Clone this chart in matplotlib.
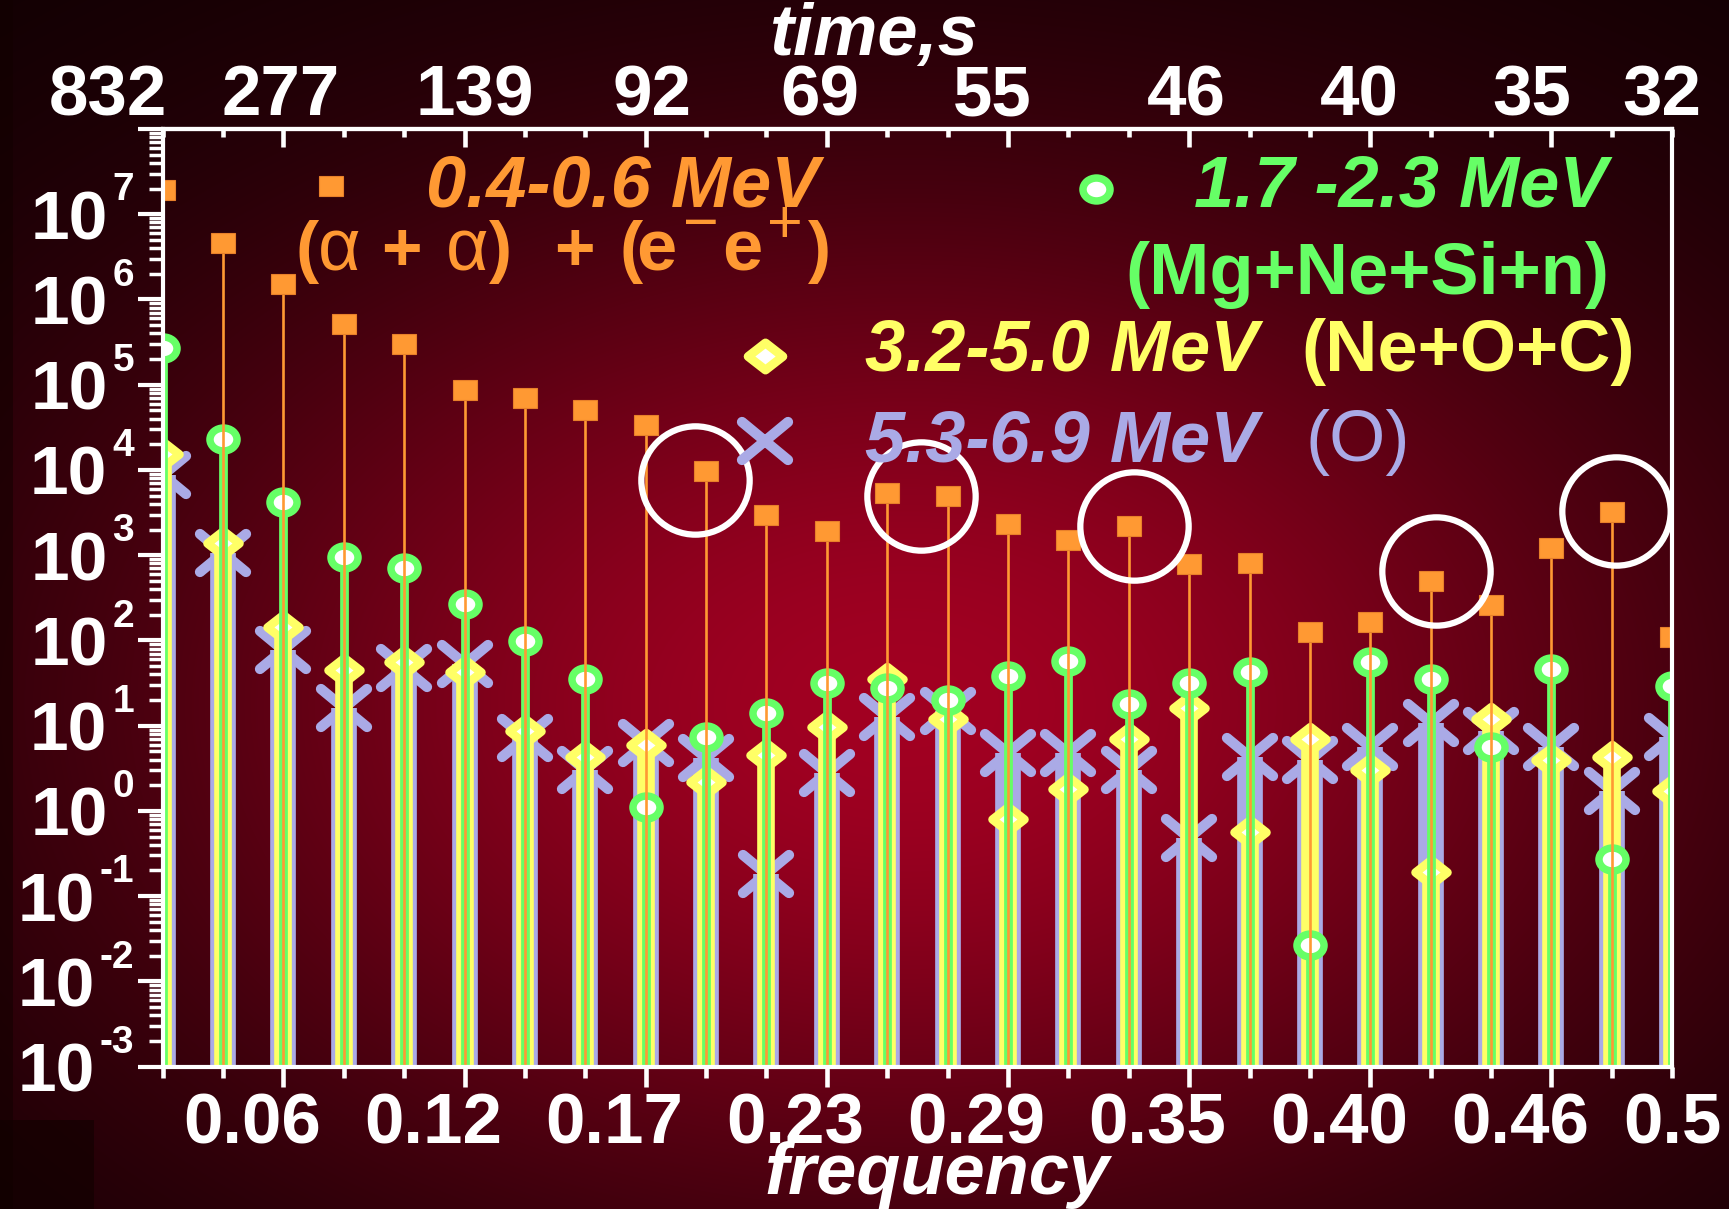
import numpy as np
import matplotlib
matplotlib.use("Agg")
import matplotlib.pyplot as plt
from matplotlib.lines import Line2D
from matplotlib.markers import MarkerStyle
from matplotlib.patches import Rectangle
from matplotlib.path import Path
from matplotlib.ticker import FixedLocator, LogLocator, NullFormatter
from matplotlib.transforms import Affine2D, ScaledTranslation

plt.rcParams["font.family"] = ["Liberation Sans", "DejaVu Sans"]

# ------------------------------------------------------------------ data
# spectral line number n; the frequency axis shows n / 52
line_no = np.arange(1, 27)
freq = line_no / 52.0

# amplitude of every line for the four energy windows
amp_04_06 = [1.9e7, 4.6e6, 1.5e6, 5.2e5, 3.0e5, 8.7e4, 7.0e4, 5.0e4, 3.4e4, 9.6e3,
             3.0e3, 1.9e3, 5.3e3, 4.9e3, 2.3e3, 1.5e3, 2.2e3, 7.8e2, 8.0e2, 1.26e2,
             1.63e2, 5.0e2, 2.63e2, 1.2e3, 3.2e3, 1.1e2]
amp_17_23 = [2.7e5, 2.3e4, 4.2e3, 9.4e2, 7.1e2, 2.65e2, 98, 35, 1.1, 7.3,
             14, 32, 28, 20, 38, 58, 18, 32, 43, 0.027,
             56, 35, 5.6, 46, 0.27, 29]
amp_32_50 = [1.55e4, 1.4e3, 142, 45, 56, 43, 8.7, 4.3, 5.9, 2.2,
             4.5, 9.6, 35, 12, 0.80, 1.8, 6.9, 16, 0.56, 6.9,
             3.0, 0.19, 12, 4.0, 4.3, 1.7]
amp_53_69 = [8.7e3, 1.07e3, 78, 16, 47, 53, 7.2, 3.0, 6.3, 4.2,
             0.18, 2.8, 12.6, 15, 4.8, 4.8, 3.0, 0.48, 4.3, 4.0,
             5.6, 10.7, 8.7, 5.6, 1.7, 7.3]

# highlighted peaks (line number, amplitude at the ring centre)
ring_line = [9.81, 13.56, 17.08, 22.09, 25.07]
ring_amp = [7.7e3, 5.0e3, 2.2e3, 6.5e2, 3.3e3]

# axis tick labels
bottom_lines = [3, 6, 9, 12, 15, 18, 21, 24, 26]
bottom_labels = ["0.06", "0.12", "0.17", "0.23", "0.29", "0.35", "0.40", "0.46", "0.5"]
top_lines = [1, 3, 6, 9, 12, 15, 18, 21, 24, 26]
top_labels = ["832", "277", "139", "92", "69", "55", "46", "40", "35", "32"]
decades = list(range(-3, 8))

# ---------------------------------------------------------------- colours
LAV, YEL, GRN, ORG = "#AAAAE6", "#FFFF66", "#66FF66", "#FF9933"

W, H, DPI = 1729, 1209, 100
fig = plt.figure(figsize=(W / DPI + 0.004, H / DPI + 0.004), dpi=DPI)
SW, SH = 1568.0, 1096.0          # layout grid for figure-level items


def fx(x):
    return x / SW


def fy(y):
    return 1.0 - y / SH


dts = fig.dpi_scale_trans


def shift(dx_pt, dy_pt):
    return ScaledTranslation(dx_pt / 72.0, dy_pt / 72.0, dts)


# ------------------------------------------------------ radial background
bg = fig.add_axes([0, 0, 1, 1], zorder=-10)
bg.set_axis_off()
xs = np.arange(0, SW, 2) + 1
ys = np.arange(0, SH, 2) + 1
xx, yy = np.meshgrid(xs, ys)
glow = np.exp(-((xx - 820) / 740.0) ** 2 - ((yy - 640) / 480.0) ** 2)
peak = np.array([162, 0, 34]) / 255.0
floor = np.array([12, 0, 2]) / 255.0
img = floor + (peak - floor) * glow[..., None]
bg.imshow(img, extent=(0, 1, 0, 1), aspect="auto", origin="upper",
          interpolation="bilinear")
bg.set_xlim(0, 1)
bg.set_ylim(0, 1)
bg.add_patch(Rectangle((0, 0), fx(12), 1, color="#120000", alpha=0.55, lw=0))
bg.add_patch(Rectangle((0, 0), fx(85), 81 / SH, color="#100000", alpha=0.6, lw=0))

# ------------------------------------------------------------- main axes
ax = fig.add_axes([162.6 / W, 1 - 1066.7 / H, (1671.8 - 162.6) / W, (1066.7 - 129.3) / H])
ax.patch.set_visible(False)
ax.set_yscale("log")
ax.set_xlim(freq[0], freq[-1])
ax.set_ylim(1e-3, 1e8)

base = 1e-3
x_mark = MarkerStyle("x", capstyle="round", transform=Affine2D().scale(1.22, 1.0))
diamond = MarkerStyle(Path([(-1, 0), (0, 0.78), (1, 0), (0, -0.78), (-1, 0)],
                           [Path.MOVETO, Path.LINETO, Path.LINETO, Path.LINETO, Path.CLOSEPOLY]),
                      joinstyle="miter")
ring = MarkerStyle("o", transform=Affine2D().scale(1.18, 1.0))
square = MarkerStyle("s", transform=Affine2D().scale(1.16, 1.0))

series = [
    (amp_53_69, LAV, 18.5, dict(marker=x_mark, ms=27.5, mew=7.4, mec=LAV, mfc=LAV), 2),
    (amp_32_50, YEL, 12.7, dict(marker=diamond, ms=23, mew=6.2, mec=YEL, mfc="white"), 3),
    (amp_17_23, GRN, 6.3, dict(marker=ring, ms=16.5, mew=5.4, mec=GRN, mfc="white"), 4),
    (amp_04_06, ORG, 1.9, dict(marker=square, ms=15.0, mew=0.8, mec="#E8802A", mfc=ORG), 5),
]
for vals, col, lw, mk, z in series:
    ax.vlines(freq, base, vals, colors=col, linewidth=lw, capstyle="butt", zorder=z)
    ax.plot(freq, vals, ls="none", zorder=z + 0.5, **mk)

ax.plot(np.array(ring_line) / 52.0, ring_amp, ls="none", marker="o", ms=78,
        mfc="none", mec="white", mew=4.5, zorder=8, clip_on=False)

for sp in ax.spines.values():
    sp.set_color("white")
    sp.set_linewidth(3)
    sp.set_zorder(6)

# y ticks
ax.yaxis.set_major_locator(LogLocator(base=10, numticks=20))
ax.yaxis.set_minor_locator(LogLocator(base=10, subs=np.arange(2, 10), numticks=20))
ax.yaxis.set_major_formatter(NullFormatter())
ax.yaxis.set_minor_formatter(NullFormatter())
ax.tick_params(axis="y", which="major", direction="out", length=18, width=3,
               color="white", right=False)
ax.tick_params(axis="y", which="minor", direction="out", length=10, width=2.5,
               color="white", right=False)

# x ticks (bottom outward, top inward)
major_f = freq[2:24:3]
minor_f = [f for i, f in enumerate(freq) if i not in range(2, 24, 3)]
ax.xaxis.set_major_locator(FixedLocator(major_f))
ax.xaxis.set_minor_locator(FixedLocator(minor_f))
ax.xaxis.set_major_formatter(NullFormatter())
ax.xaxis.set_minor_formatter(NullFormatter())
ax.tick_params(axis="x", which="major", direction="out", length=14.4, width=3.3,
               color="white", top=False)
ax.tick_params(axis="x", which="minor", direction="out", length=8, width=3.3,
               color="white", top=False)

sec = ax.secondary_xaxis("top")
sec.xaxis.set_major_locator(FixedLocator(major_f))
sec.xaxis.set_minor_locator(FixedLocator(minor_f))
sec.xaxis.set_major_formatter(NullFormatter())
sec.xaxis.set_minor_formatter(NullFormatter())
sec.tick_params(axis="x", which="major", direction="in", length=13, width=3.3, color="white")
sec.tick_params(axis="x", which="minor", direction="in", length=6, width=3.3, color="white")
for sp in sec.spines.values():
    sp.set_color("white")
    sp.set_linewidth(3)

TXT = dict(color="white", fontweight="bold")
TICK = 51
BIG = 52

# bottom frequency labels
xtr = ax.get_xaxis_transform()
bottom_dx = [-22.7] * 8 + [0.0]
for n, lab, dx in zip(bottom_lines, bottom_labels, bottom_dx):
    ax.text(n / 52.0, 0, lab, transform=xtr + shift(dx, -54.7), ha="center",
            va="baseline", fontsize=TICK, **TXT)

# top period labels
top_dx = [-39.3, -2.0, 7.5, 4.3, -4.8, -11.0, -1.7, -7.6, -14.0, -7.5]
for n, lab, dx in zip(top_lines, top_labels, top_dx):
    ax.text(n / 52.0, 1, lab, transform=xtr + shift(dx, 10.3), ha="center",
            va="baseline", fontsize=TICK, **TXT)

# decade labels 10^n
ytr = ax.get_yaxis_transform()
for d in decades:
    ex = ax.text(0, 10.0 ** d, str(d), transform=ytr + shift(-20.6, 10.2),
                 ha="right", va="baseline", fontsize=28, **TXT)
    ax.annotate("10", xy=(0, 0), xycoords=ex, xytext=(-3.5, -32.2),
                textcoords="offset points", ha="right", va="bottom",
                fontsize=50, **TXT)

# axis titles
fig.text(fx(793), fy(50), "time,s", ha="center", va="baseline", fontsize=BIG,
         fontstyle="italic", **TXT)
fig.text(fx(849), fy(1082), "frequency", ha="center", va="baseline", fontsize=BIG,
         fontstyle="italic", **TXT)


# ---------------------------------------------------------------- legend
def put(s, x, y, color, size=BIG, weight="bold", style="normal", ha="left"):
    return fig.text(fx(x), fy(y), s, color=color, fontsize=size, fontweight=weight,
                    fontstyle=style, ha=ha, va="baseline")


def key(x, y, **mk):
    fig.add_artist(Line2D([fx(x)], [fy(y)], transform=fig.transFigure, ls="none", **mk))


key(300, 169, **series[3][3])
put("0.4-0.6 MeV", 565, 187, ORG, style="italic", ha="center")
for s, x, w, sz in [("(", 268, "bold", 50), ("α", 288, "normal", 53), ("+", 346, "bold", 50),
                    ("α", 404, "normal", 53), (")", 443, "bold", 50), ("+", 502, "bold", 50),
                    ("(", 562, "bold", 50), ("e", 577, "bold", 52), ("e", 655, "bold", 52),
                    (")", 733, "bold", 50)]:
    put(s, x, 245, ORG, size=sz, weight=w)
put("\u2212", 619, 219, ORG, size=44, weight="normal")
put("+", 695, 219, ORG, size=44, weight="normal")

key(994, 172, **series[2][3])
put("1.7 -2.3 MeV", 1270, 187, GRN, style="italic", ha="center")
put("(Mg+Ne+Si+n)", 1240, 266, GRN, ha="center")

key(694, 323, marker=diamond, ms=25, mew=6.4, mec=YEL, mfc="white")
put("3.2-5.0 MeV", 963, 336, YEL, style="italic", ha="center")
put("(Ne+O+C)", 1331, 336, YEL, ha="center")

key(694, 400, **series[0][3])
put("5.3-6.9 MeV", 963, 418, LAV, style="italic", ha="center")
put("(O)", 1231, 418, LAV, weight="normal", ha="center")

fig.savefig("out.png", dpi=DPI)
